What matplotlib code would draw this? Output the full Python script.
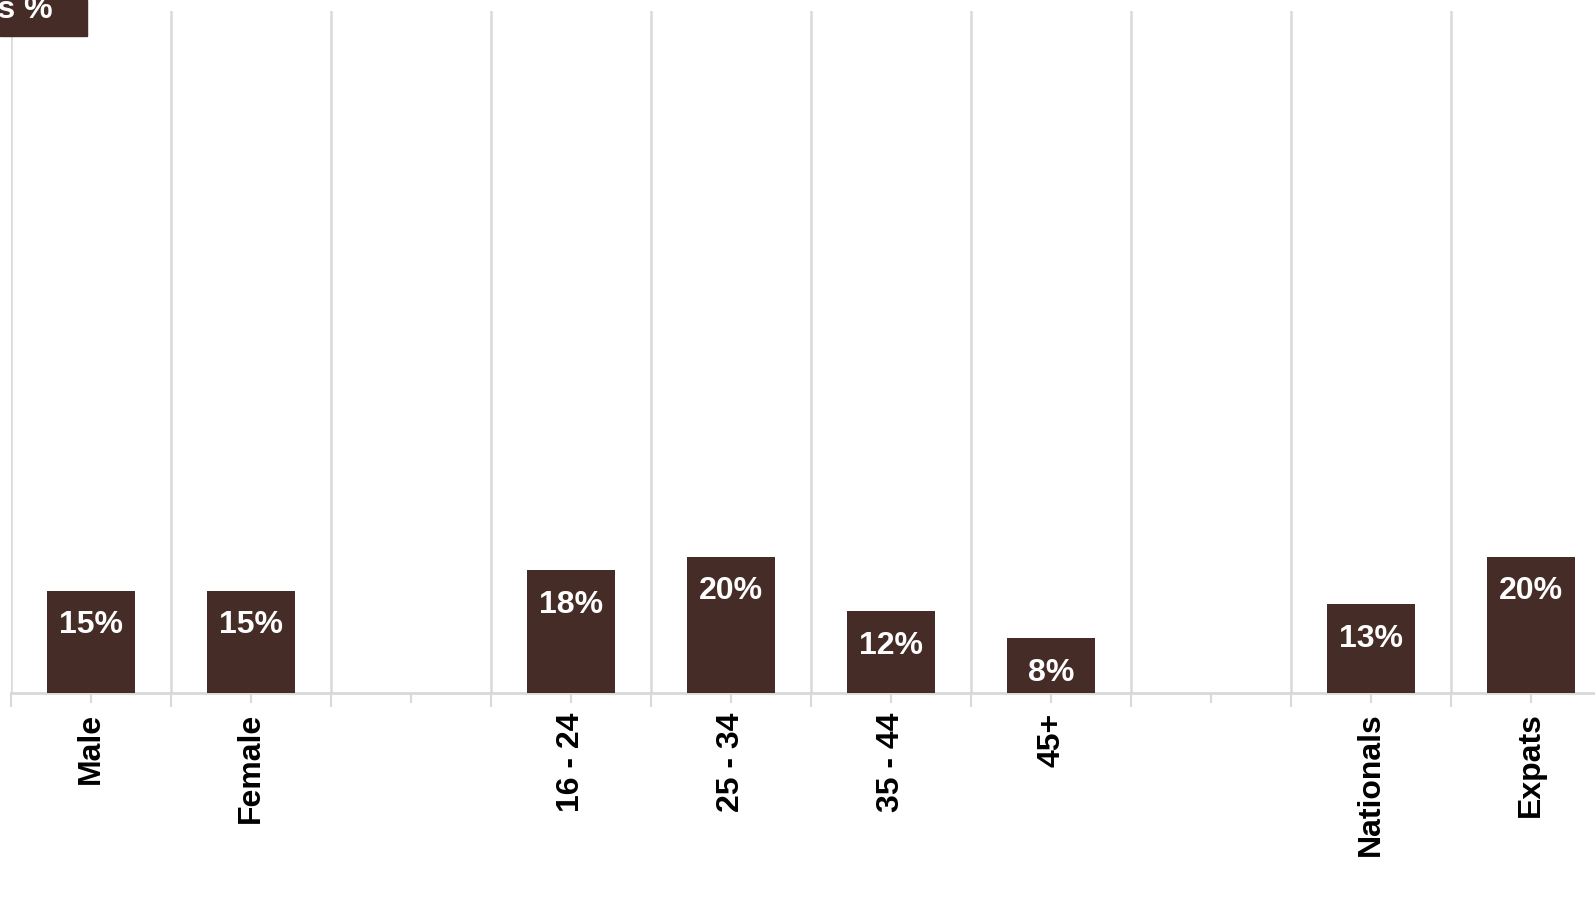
import matplotlib.pyplot as plt
from matplotlib.patches import Rectangle

# dados
categories = ["Male", "Female", "", "16 - 24", "25 - 34", "35 - 44", "45+", "", "Nationals", "Expats"]
values = [15, 15, None, 18, 20, 12, 8, None, 13, 20]
title_text = "Yes %"

bar_color = "#452C26"
grid_color = "#D9D9D9"

plt.rcParams['font.family'] = ['Liberation Sans', 'DejaVu Sans']

fig = plt.figure(figsize=(15.95, 8.97), dpi=100)
ax = fig.add_axes([11 / 1595, 1 - 693 / 897, 1 - 11 / 1595, (693 - 11) / 897])

pos = list(range(len(categories)))
xs = [p for p, v in zip(pos, values) if v is not None]
ys = [v for v in values if v is not None]
bars = ax.bar(xs, ys, width=0.556, color=bar_color, zorder=3)

# rotulos dentro das barras
for b, v in zip(bars, ys):
    ax.annotate(f"{v}%", (b.get_x() + b.get_width() / 2, v),
                xytext=(0, -14), textcoords="offset points",
                ha="center", va="top", color="white",
                fontsize=23, fontweight="bold", zorder=4)

ax.set_xticks(pos)
ax.set_xticklabels(categories, rotation=90, fontsize=23, fontweight="bold")
ax.set_xticks([p - 0.5 for p in pos] + [len(pos) - 0.5], minor=True)
ax.tick_params(axis="x", which="major", length=7, width=1.5, color=grid_color, pad=7)
ax.tick_params(axis="x", which="minor", length=10, width=1.5, color=grid_color)
ax.set_yticks([])
ax.grid(axis="x", which="minor", color=grid_color, linewidth=1.8, zorder=0)

# limites depois dos ticks (set_xticks expande a vista)
ax.set_xlim(-0.5, -0.5 + (1595 - 11) / 160)
ax.set_ylim(0, 100)

for s in ["top", "left", "right"]:
    ax.spines[s].set_visible(False)
ax.spines["bottom"].set_color(grid_color)
ax.spines["bottom"].set_linewidth(2)

# caixa do titulo (cortada no canto)
fig.patches.append(Rectangle((0, 1 - 36 / 897), 87 / 1595, 36 / 897,
                             transform=fig.transFigure, color=bar_color, zorder=5))
fig.text(53 / 1595, 1 - 18 / 897, title_text, ha="right", va="baseline",
         color="white", fontsize=23, fontweight="bold", zorder=6)

fig.savefig("out.png", dpi=100)
